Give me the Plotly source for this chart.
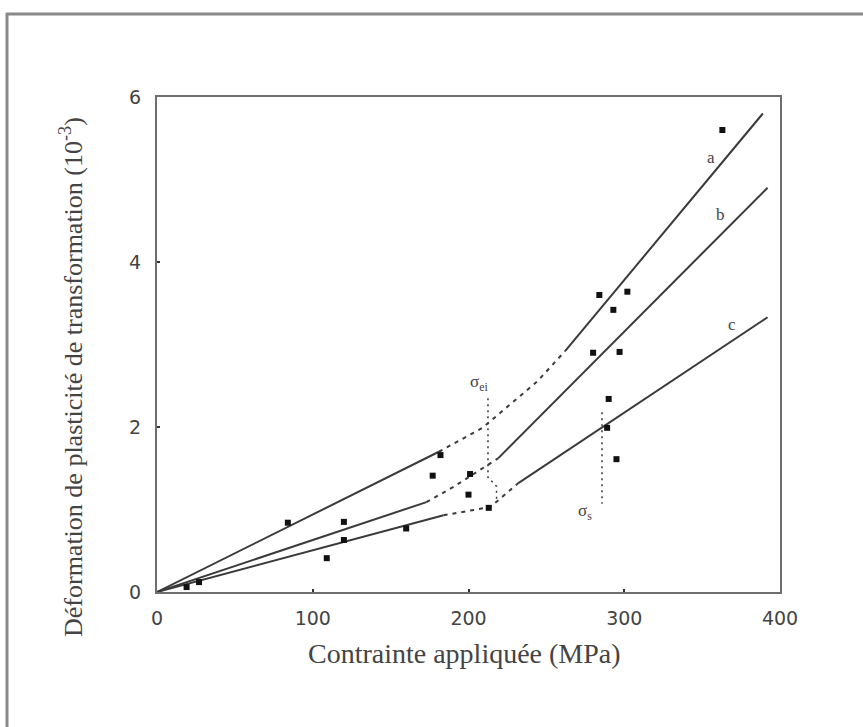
import plotly.graph_objects as go

# ---- data ----
# line a
a_solid1_x = [0, 181]
a_solid1_y = [0, 1.70]
a_dash_x = [181, 209, 244, 262]
a_dash_y = [1.70, 1.99, 2.55, 2.92]
a_solid2_x = [262, 389]
a_solid2_y = [2.92, 5.80]
# line b
b_solid1_x = [0, 173]
b_solid1_y = [0, 1.09]
b_dash_x = [173, 190, 219]
b_dash_y = [1.09, 1.27, 1.62]
b_solid2_x = [219, 392]
b_solid2_y = [1.62, 4.90]
# line c
c_solid1_x = [0, 184]
c_solid1_y = [0, 0.93]
c_dash_x = [184, 214, 232]
c_dash_y = [0.93, 1.03, 1.32]
c_solid2_x = [232, 392]
c_solid2_y = [1.32, 3.33]
# measured points
pts_x = [19, 27, 84, 109, 120, 120, 160, 177, 182, 200, 201, 213,
         280, 284, 289, 290, 293, 295, 297, 302, 363]
pts_y = [0.06, 0.12, 0.84, 0.41, 0.85, 0.63, 0.77, 1.41, 1.66, 1.18, 1.43, 1.02,
         2.90, 3.60, 1.99, 2.34, 3.42, 1.61, 2.91, 3.64, 5.60]
# dotted markers of stresses
sig_ei_x = [212.5, 212.5, 218, 218]
sig_ei_y = [2.35, 1.39, 1.28, 1.12]
sig_s_x = [285.7, 285.7]
sig_s_y = [2.18, 1.07]
# tick labels
x_ticks = [0, 100, 200, 300, 400]
y_ticks = [0, 2, 4, 6]
# curve labels
lab_text = ["a", "b", "c", "σ<sub>ei</sub>", "σ<sub>s</sub>"]
lab_x = [356, 362, 369, 207, 275]
lab_y = [5.27, 4.57, 3.24, 2.53, 0.97]

LC = "#3a3a3a"
fig = go.Figure()

def seg(x, y, dash="solid", width=2):
    fig.add_trace(go.Scatter(x=x, y=y, mode="lines",
                             line=dict(color=LC, width=width, dash=dash),
                             showlegend=False, hoverinfo="skip"))

for xs, ys in [(a_solid1_x, a_solid1_y), (a_solid2_x, a_solid2_y),
               (b_solid1_x, b_solid1_y), (b_solid2_x, b_solid2_y),
               (c_solid1_x, c_solid1_y), (c_solid2_x, c_solid2_y)]:
    seg(xs, ys)
for xs, ys in [(a_dash_x, a_dash_y), (b_dash_x, b_dash_y), (c_dash_x, c_dash_y)]:
    seg(xs, ys, dash="4px,5px")
for xs, ys in [(sig_ei_x, sig_ei_y), (sig_s_x, sig_s_y)]:
    seg(xs, ys, dash="2px,4px", width=1.5)

fig.add_trace(go.Scatter(x=pts_x, y=pts_y, mode="markers",
                         marker=dict(symbol="square", size=6, color="#111"),
                         showlegend=False))

for t, x, y in zip(lab_text, lab_x, lab_y):
    fig.add_annotation(x=x, y=y, text=t, showarrow=False,
                       xanchor="center", yanchor="middle",
                       font=dict(family="Liberation Serif", size=17, color="#444"))

# axis titles
fig.add_annotation(xref="paper", yref="paper", x=(464 - 157) / 623, y=(592 - 653) / 495,
                   xanchor="center", yanchor="middle",
                   text="Contrainte appliquée (MPa)", showarrow=False,
                   font=dict(family="Liberation Serif", size=28, color="#444"))
fig.add_annotation(xref="paper", yref="paper", x=(71 - 157) / 623, y=(592 - 377) / 495,
                   xanchor="center", yanchor="middle",
                   text="Déformation de plasticité de transformation (10<sup>-3</sup>)",
                   textangle=-90, showarrow=False,
                   font=dict(family="Liberation Serif", size=26, color="#444"))

# outer frame (top and left edges of the scan)
fig.add_shape(type="line", xref="paper", yref="paper",
              x0=(6 - 157) / 623, x1=(870 - 157) / 623,
              y0=(592 - 14) / 495, y1=(592 - 14) / 495,
              line=dict(color="#8a8a8a", width=3))
fig.add_shape(type="line", xref="paper", yref="paper",
              x0=(7 - 157) / 623, x1=(7 - 157) / 623,
              y0=(592 - 13) / 495, y1=(592 - 740) / 495,
              line=dict(color="#8a8a8a", width=3))

axis_common = dict(showline=True, mirror=True, linecolor="#6f6f6f", linewidth=2,
                   showgrid=False, zeroline=False, ticks="inside", ticklen=3,
                   tickcolor="#333", tickwidth=2,
                   tickfont=dict(family="DejaVu Sans", size=19, color="#444"))
fig.update_xaxes(range=[0, 400], tickvals=x_ticks, ticktext=[str(v) for v in x_ticks],
                 ticklabelstandoff=8, **axis_common)
fig.update_yaxes(range=[0, 6], tickvals=y_ticks, ticktext=[str(v) for v in y_ticks],
                 ticklabelstandoff=10, **axis_common)

fig.update_layout(width=863, height=727, margin=dict(l=157, r=83, t=97, b=135),
                  paper_bgcolor="white", plot_bgcolor="white", showlegend=False)

fig.write_html("out.html")
